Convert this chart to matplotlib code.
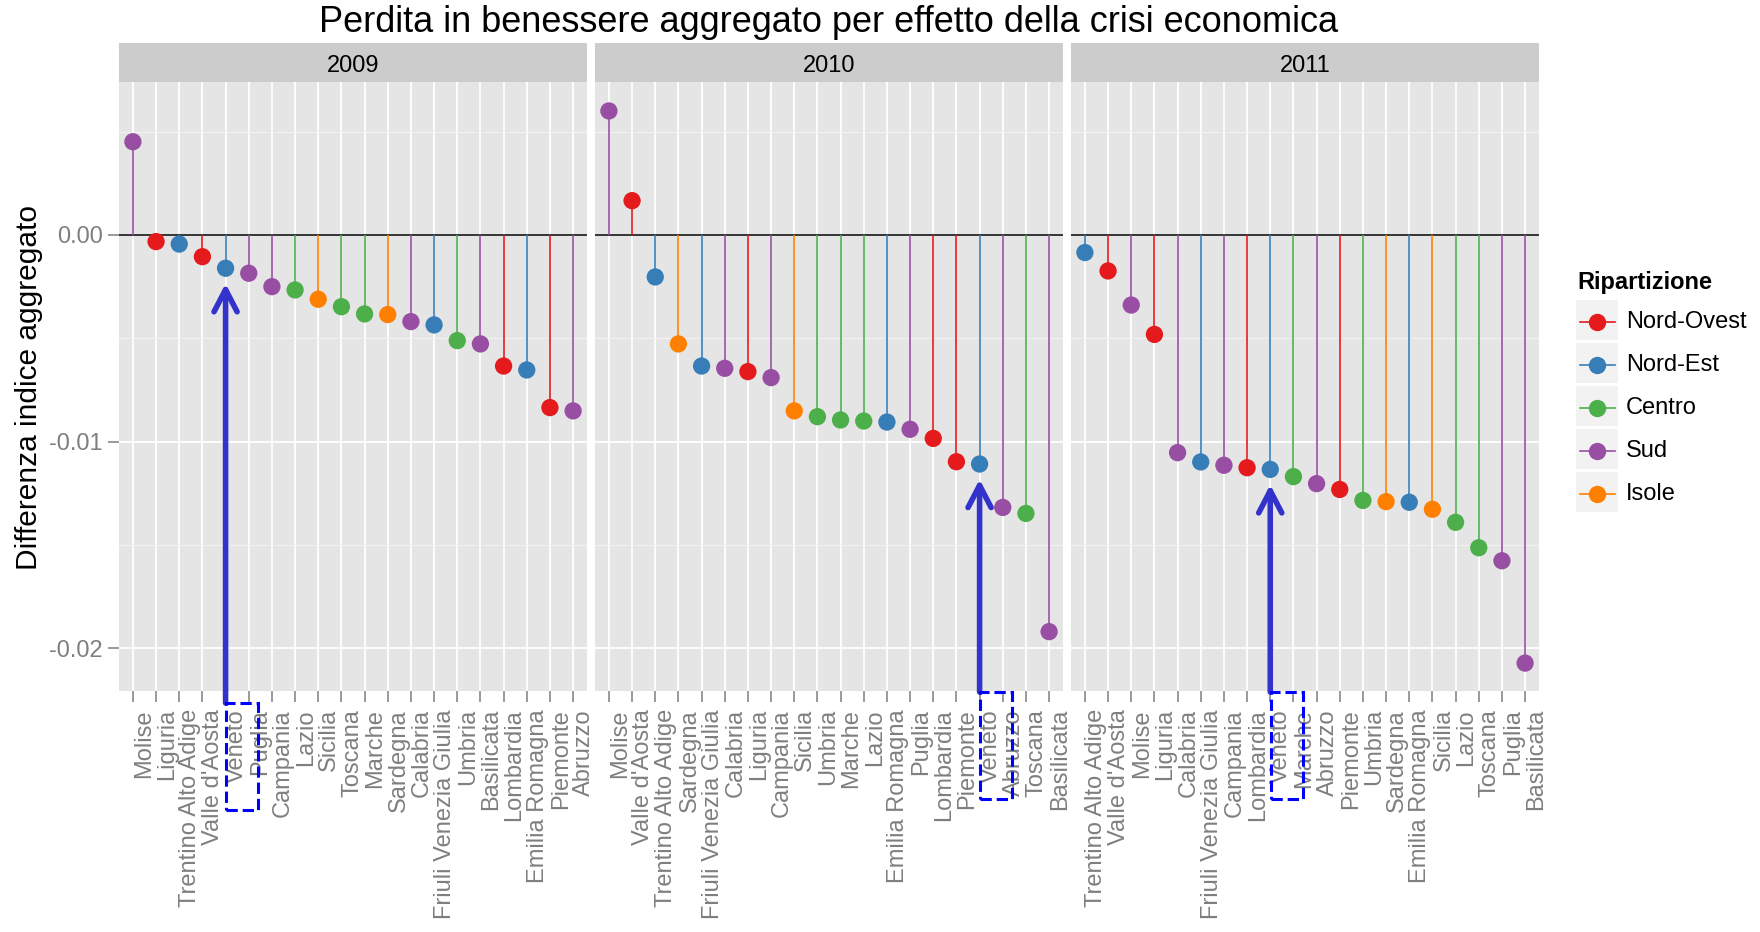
import numpy as np
import matplotlib.pyplot as plt
from matplotlib.lines import Line2D
from matplotlib.patches import Rectangle
import matplotlib.transforms as mtransforms

plt.rcParams['font.family'] = ['Liberation Sans', 'DejaVu Sans']
plt.rcParams['axes.unicode_minus'] = False

# Ripartizione geografica
ripartizioni = ['Nord-Ovest', 'Nord-Est', 'Centro', 'Sud', 'Isole']
colori = ['#E41A1C', '#377EB8', '#4DAF4A', '#984EA3', '#FF7F00']
ripartizione = {
    'Piemonte': 'Nord-Ovest', "Valle d'Aosta": 'Nord-Ovest', 'Liguria': 'Nord-Ovest', 'Lombardia': 'Nord-Ovest',
    'Trentino Alto Adige': 'Nord-Est', 'Veneto': 'Nord-Est', 'Friuli Venezia Giulia': 'Nord-Est', 'Emilia Romagna': 'Nord-Est',
    'Toscana': 'Centro', 'Umbria': 'Centro', 'Marche': 'Centro', 'Lazio': 'Centro',
    'Abruzzo': 'Sud', 'Molise': 'Sud', 'Campania': 'Sud', 'Puglia': 'Sud', 'Basilicata': 'Sud', 'Calabria': 'Sud',
    'Sicilia': 'Isole', 'Sardegna': 'Isole',
}

anni = ['2009', '2010', '2011']

regioni_2009 = ['Molise', 'Liguria', 'Trentino Alto Adige', "Valle d'Aosta", 'Veneto', 'Puglia', 'Campania',
                'Lazio', 'Sicilia', 'Toscana', 'Marche', 'Sardegna', 'Calabria', 'Friuli Venezia Giulia',
                'Umbria', 'Basilicata', 'Lombardia', 'Emilia Romagna', 'Piemonte', 'Abruzzo']
diff_2009 = [0.00451, -0.00032, -0.00044, -0.00105, -0.00161, -0.00185, -0.00250, -0.00266, -0.00311,
             -0.00347, -0.00382, -0.00385, -0.00419, -0.00435, -0.00511, -0.00527, -0.00634, -0.00653,
             -0.00835, -0.00851]

regioni_2010 = ['Molise', "Valle d'Aosta", 'Trentino Alto Adige', 'Sardegna', 'Friuli Venezia Giulia',
                'Calabria', 'Liguria', 'Campania', 'Sicilia', 'Umbria', 'Marche', 'Lazio', 'Emilia Romagna',
                'Puglia', 'Lombardia', 'Piemonte', 'Veneto', 'Abruzzo', 'Toscana', 'Basilicata']
diff_2010 = [0.00600, 0.00166, -0.00203, -0.00527, -0.00634, -0.00645, -0.00661, -0.00690, -0.00851,
             -0.00879, -0.00895, -0.00900, -0.00905, -0.00940, -0.00984, -0.01097, -0.01108, -0.01318,
             -0.01347, -0.01919]

regioni_2011 = ['Trentino Alto Adige', "Valle d'Aosta", 'Molise', 'Liguria', 'Calabria', 'Friuli Venezia Giulia',
                'Campania', 'Lombardia', 'Veneto', 'Marche', 'Abruzzo', 'Piemonte', 'Umbria', 'Sardegna',
                'Emilia Romagna', 'Sicilia', 'Lazio', 'Toscana', 'Puglia', 'Basilicata']
diff_2011 = [-0.00085, -0.00174, -0.00339, -0.00481, -0.01053, -0.01098, -0.01114, -0.01126, -0.01134,
             -0.01169, -0.01203, -0.01231, -0.01284, -0.01290, -0.01293, -0.01327, -0.01390, -0.01513,
             -0.01576, -0.02071]

dati = [(regioni_2009, diff_2009), (regioni_2010, diff_2010), (regioni_2011, diff_2011)]
evidenzia = 'Veneto'

W, H = 1760, 932
fig = plt.figure(figsize=(W / 100, H / 100), dpi=100)

lefts = [119, 595, 1071]
pw = 468
top, bottom = 82, 691
ph = bottom - top
ylim = (-0.02206, 0.0074)
col_map = dict(zip(ripartizioni, colori))
# riquadro tratteggiato: distanza dal fondo del pannello (px)
riquadro_off = [12, 1, 1]

for k, (regs, vals) in enumerate(dati):
    ax = fig.add_axes([lefts[k] / W, 1 - bottom / H, pw / W, ph / H])
    ax.set_facecolor('#E5E5E5')
    x = np.arange(len(regs))
    cols = [col_map[ripartizione[r]] for r in regs]
    ax.axhline(0, color='black', lw=1.1, zorder=2.5)
    ax.vlines(x, 0, vals, colors=cols, lw=1.2, zorder=3)
    ax.scatter(x, vals, s=155, c=cols, linewidths=0, zorder=4)

    ax.set_xlim(-0.6, len(regs) - 0.4)
    ax.set_ylim(*ylim)
    ax.set_yticks([-0.02, -0.01, 0.0])
    ax.set_yticks([-0.015, -0.005, 0.005], minor=True)
    ax.set_yticklabels(['%.2f' % v for v in [-0.02, -0.01, 0.0]])
    ax.set_xticks(x)
    ax.set_xticklabels(regs, rotation=90, ha='left', va='top')
    ax.grid(which='major', color='white', lw=1.3, zorder=0)
    ax.grid(which='minor', axis='y', color='#F2F2F2', lw=0.8, zorder=0)
    ax.set_axisbelow(True)
    for s in ax.spines.values():
        s.set_visible(False)
    ax.tick_params(axis='both', which='major', length=8, width=1.1, color='#7F7F7F',
                   labelcolor='#7F7F7F', labelsize=17, pad=5)
    ax.tick_params(axis='y', which='major', pad=3.5)
    ax.tick_params(axis='y', which='minor', length=0)
    if k > 0:
        ax.tick_params(axis='y', left=False, labelleft=False)

    # strip
    ax.add_patch(Rectangle((0, 1), 1, 39 / ph, transform=ax.transAxes, facecolor='#CCCCCC',
                           edgecolor='none', clip_on=False))
    ax.text(0.5, 1 + 16 / ph, anni[k], transform=ax.transAxes, ha='center', va='center', fontsize=17)

    # freccia e riquadro su Veneto
    i = regs.index(evidenzia)
    trans = mtransforms.blended_transform_factory(ax.transData, ax.transAxes)
    y_top = -riquadro_off[k] / ph
    ax.annotate('', xy=(i, vals[i]), xytext=(i, y_top), textcoords=trans,
                arrowprops=dict(arrowstyle='->,head_length=1.0,head_width=0.52', lw=4, color='#3333CC',
                                shrinkA=0, shrinkB=11, mutation_scale=16),
                annotation_clip=False, zorder=6)
    ax.add_patch(Rectangle((i + 0.03, y_top - 107 / ph), 1.38, 107 / ph, transform=trans, fill=False,
                           edgecolor='#0000FF', lw=2.2, linestyle='--', clip_on=False, zorder=6))

fig.text(829 / W, 1 - 22 / H, 'Perdita in benessere aggregato per effetto della crisi economica',
         ha='center', va='center', fontsize=26)
fig.text(29 / W, 1 - 387 / H, 'Differenza indice aggregato', rotation=90,
         ha='center', va='center', fontsize=21.5)

# legenda
lax = fig.add_axes([0, 0, 1, 1])
lax.set_xlim(0, W)
lax.set_ylim(H, 0)
lax.axis('off')
lax.text(1577, 283, 'Ripartizione', fontsize=17, fontweight='bold', ha='left', va='center')
for j, (lab, c) in enumerate(zip(ripartizioni, colori)):
    yc = 322 + 43 * j
    lax.add_patch(Rectangle((1576, yc - 22), 42, 40, facecolor='#F2F2F2', edgecolor='none'))
    lax.add_line(Line2D([1580, 1615], [yc, yc], color=c, lw=1.2))
    lax.plot([1597], [yc], marker='o', ms=12.5, color=c, mew=0)
    lax.text(1626, yc, lab, fontsize=17, ha='left', va='center')

fig.savefig('out.png', dpi=100)
